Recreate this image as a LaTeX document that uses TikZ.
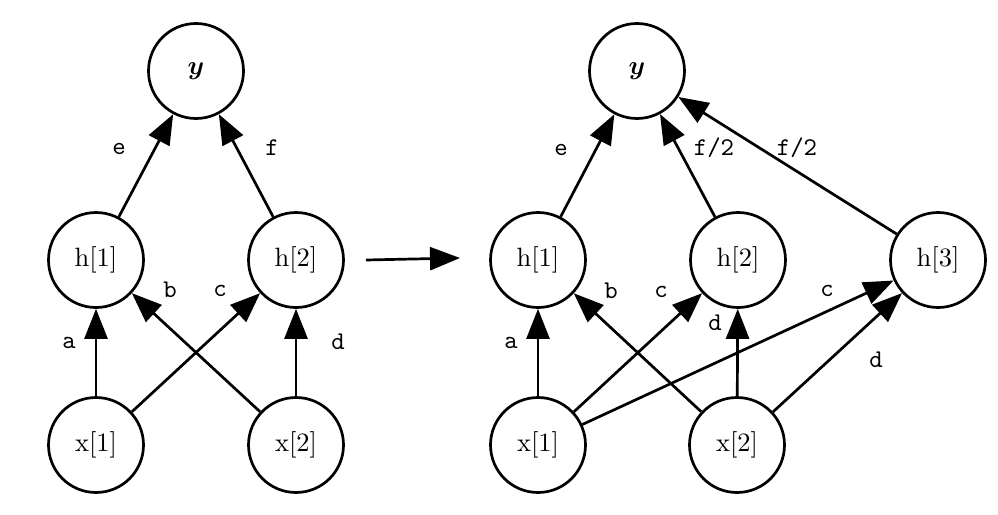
\documentclass[tikz,border=0pt]{standalone}
\usepackage{amsmath,bm}
\usepackage{graphicx}
\usetikzlibrary{arrows.meta}
\newcommand{\myNodeTxt}[1]{\scalebox{2.65}{#1}}
\newcommand{\myLabTxt}[1]{\scalebox{2.55}{\ttfamily #1}}
\begin{document}
\begin{tikzpicture}[x=1pt,y=-1pt,
  nd/.style={circle,draw,line width=2.7pt,minimum size=95pt,inner sep=0pt,font=\fontsize{10}{12}\selectfont},
  ed/.style={line width=2.7pt,-{Triangle[length=30pt,width=23pt]}},
  lb/.style={font=\fontsize{10}{12}\selectfont,inner sep=0pt}]
\useasboundingbox (0,0) rectangle (998,514);
% left graph
\node[nd] (ly) at (196,71) {\myNodeTxt{$\bm{y}$}};
\node[nd] (lh1) at (96,260) {\myNodeTxt{h[1]}};
\node[nd] (lh2) at (296,260) {\myNodeTxt{h[2]}};
\node[nd] (lx1) at (96,445) {\myNodeTxt{x[1]}};
\node[nd] (lx2) at (296,445) {\myNodeTxt{x[2]}};
\draw[ed] (lh1) -- (ly);
\draw[ed] (lh2) -- (ly);
\draw[ed] (lx1) -- (lh1);
\draw[ed] (lx2) -- (lh1);
\draw[ed] (lx1) -- (lh2);
\draw[ed] (lx2) -- (lh2);
\node[lb] (le) at (119,149) {\myLabTxt{e}};
\node[lb] (lf) at (272,148) {\myLabTxt{f}};
\node[lb] (la) at (69,343) {\myLabTxt{a}};
\node[lb] (lbb) at (170,290) {\myLabTxt{b}};
\node[lb] (lc) at (220,291) {\myLabTxt{c}};
\node[lb] (ld) at (338,342) {\myLabTxt{d}};
% middle arrow
\coordinate (m1) at (366,260);
\coordinate (m2) at (460,258);
\draw[ed] (m1) -- (m2);
% right graph
\node[nd] (ry) at (637,71) {\myNodeTxt{$\bm{y}$}};
\node[nd] (rh1) at (538,260) {\myNodeTxt{h[1]}};
\node[nd] (rh2) at (738,260) {\myNodeTxt{h[2]}};
\node[nd] (rh3) at (938,260) {\myNodeTxt{h[3]}};
\node[nd] (rx1) at (538,445) {\myNodeTxt{x[1]}};
\node[nd] (rx2) at (737,445) {\myNodeTxt{x[2]}};
\draw[ed] (rh1) -- (ry);
\draw[ed] (rh2) -- (ry);
\draw[ed] (rh3) -- (ry);
\draw[ed] (rx1) -- (rh1);
\draw[ed] (rx2) -- (rh1);
\draw[ed] (rx1) -- (rh2);
\draw[ed] (rx2) -- (rh2);
\draw[ed] (rx1) -- (rh3);
\draw[ed] (rx2) -- (rh3);
\node[lb] (re) at (561,150) {\myLabTxt{e}};
\node[lb] (rf1) at (714,148) {\myLabTxt{f/2}};
\node[lb] (rf2) at (797,148) {\myLabTxt{f/2}};
\node[lb] (ra) at (511,343) {\myLabTxt{a}};
\node[lb] (rb) at (611,291) {\myLabTxt{b}};
\node[lb] (rc1) at (661,292) {\myLabTxt{c}};
\node[lb] (rd1) at (715,323) {\myLabTxt{d}};
\node[lb] (rc2) at (827,291) {\myLabTxt{c}};
\node[lb] (rd2) at (876,360) {\myLabTxt{d}};
\end{tikzpicture}
\end{document}
